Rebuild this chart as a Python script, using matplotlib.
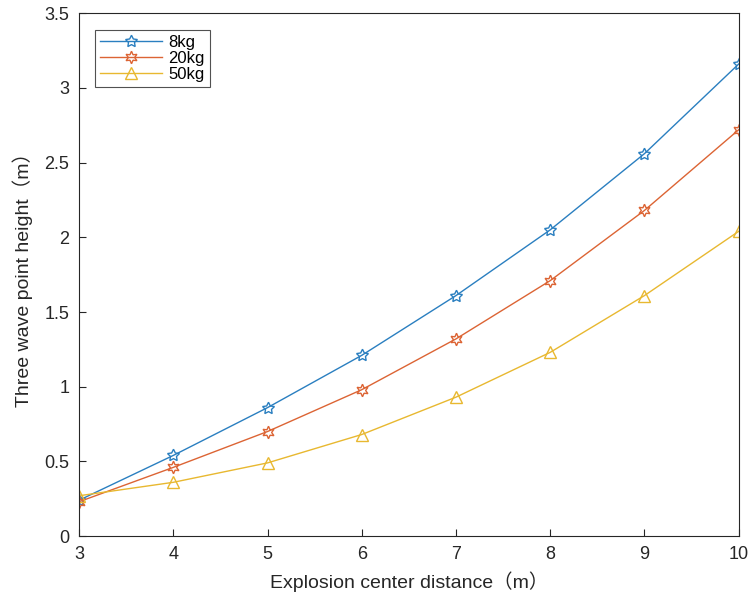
import matplotlib
matplotlib.use("Agg")
import matplotlib.pyplot as plt

plt.rcParams['font.family'] = ['Liberation Sans', 'DejaVu Sans']

distance = [3, 4, 5, 6, 7, 8, 9, 10]
h_8kg = [0.24, 0.54, 0.86, 1.21, 1.61, 2.05, 2.56, 3.16]
h_20kg = [0.23, 0.46, 0.70, 0.98, 1.32, 1.71, 2.18, 2.72]
h_50kg = [0.27, 0.36, 0.49, 0.68, 0.93, 1.23, 1.61, 2.04]
labels = ['8kg', '20kg', '50kg']
xticks = [3, 4, 5, 6, 7, 8, 9, 10]
yticks = [0, 0.5, 1, 1.5, 2, 2.5, 3, 3.5]

fig = plt.figure(figsize=(7.53, 6.01), dpi=100)
ax = fig.add_axes([0.105, 0.108, 0.876, 0.870])

ax.plot(distance, h_8kg, color='#2a7fc0', lw=1, marker=(5, 1, 0), ms=9,
        mfc='none', mew=1, label=labels[0])
ax.plot(distance, h_20kg, color='#dc6434', lw=1, marker=(6, 1, 0), ms=9,
        mfc='none', mew=1, label=labels[1])
ax.plot(distance, h_50kg, color='#e8b830', lw=1, marker='^', ms=9,
        mfc='none', mew=1, label=labels[2])

ax.set_xlim(3, 10)
ax.set_ylim(0, 3.5)
ax.set_xticks(xticks)
ax.set_yticks(yticks)
ax.set_yticklabels(['0', '0.5', '1', '1.5', '2', '2.5', '3', '3.5'])
ax.tick_params(direction='in', length=5, labelsize=13, colors='#262626', pad=7)
for s in ax.spines.values():
    s.set_color('#262626')
    s.set_linewidth(0.8)

ax.set_xlabel('Explosion center distance（m）', fontsize=14, color='#262626',
              family=['Liberation Sans', 'Noto Sans CJK SC'], labelpad=6)
ax.set_ylabel('Three wave point height（m）', fontsize=14, color='#262626',
              family=['Liberation Sans', 'Noto Sans CJK SC'], labelpad=8)

leg = ax.legend(loc='upper left', bbox_to_anchor=(0.024, 0.968), fontsize=12,
                frameon=True, fancybox=False, edgecolor='#262626',
                handlelength=3.7, handletextpad=0.4, borderpad=0.3,
                labelspacing=0.05, borderaxespad=0)
leg.get_frame().set_linewidth(0.8)

fig.savefig('out.png', dpi=100)
